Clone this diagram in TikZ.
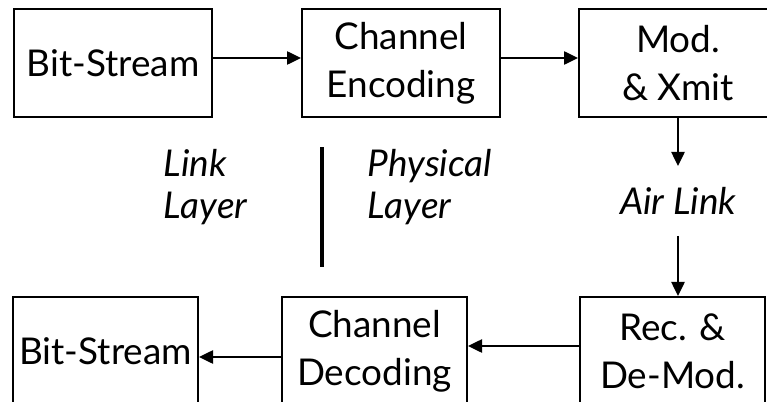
\documentclass[tikz,border=0pt]{standalone}
\usepackage{fontspec}
\setmainfont{Lato}
\usetikzlibrary{arrows.meta}
\tikzset{
	bloc/.style = {draw=black, line width=1.1pt, align=center, inner sep=0pt,
		minimum height=2.16cm, font=\fontsize{21}{27.5}\selectfont},% bloc de base
	bloc_l/.style = {bloc, minimum width=3.96cm},% bloc large, ligne du haut
	bloc_e/.style = {bloc, minimum width=3.7cm},% bloc etroit, ligne du bas
	etiq/.style = {align=left, inner sep=0pt,
		font=\fontsize{21}{24}\selectfont\itshape},% nom de couche
	etiq_a/.style = {etiq, align=center, minimum height=1.36cm}% liaison radio
}

\begin{document}
\begin{tikzpicture}[>={Triangle[length=8pt,width=7.5pt]}, x=0.02cm, y=-0.02cm,
		line width=1.1pt]
	\path[use as bounding box, clip] (0,0) rectangle (767,402);
	% emission
	\node [bloc_l] (bs_in) at (113,63) {Bit-Stream};
	\node [bloc_l] (ch_enc) at (401,63) {Channel\\Encoding};
	\node [bloc_l] (mod_x) at (678,63) {Mod.\\\& Xmit};
	% reception
	\node [bloc_e] (bs_out) at (105.5,351) {Bit-Stream};
	\node [bloc_e] (ch_dec) at (374.5,351) {Channel\\Decoding};
	\node [bloc_e] (rec_dem) at (672.5,351) {Rec. \&\\De-Mod.};
	% couches
	\node [etiq, anchor=west] (link) at (163,187) {Link\\Layer};
	\node [etiq, anchor=west] (phys) at (367,187) {Physical\\Layer};
	\node [etiq_a] (air) at (678,201) {Air Link};
	\draw [line width=2.2pt] (322,147) -- (322,267);
	% liens
	\draw [->] ([yshift=0.1cm]bs_in.east) -- ([yshift=0.1cm]ch_enc.west);
	\draw [->] ([yshift=0.1cm]ch_enc.east) -- ([yshift=0.1cm]mod_x.west);
	\draw [->] (mod_x.south) -- (air.north);
	\draw [->] (air.south) -- (air.south |- rec_dem.north);
	\draw [->] ([yshift=0.1cm]rec_dem.west) -- ([yshift=0.1cm]ch_dec.east);
	\draw [->] ([yshift=-0.12cm]ch_dec.west) -- ([yshift=-0.12cm]bs_out.east);
\end{tikzpicture}
\end{document}
